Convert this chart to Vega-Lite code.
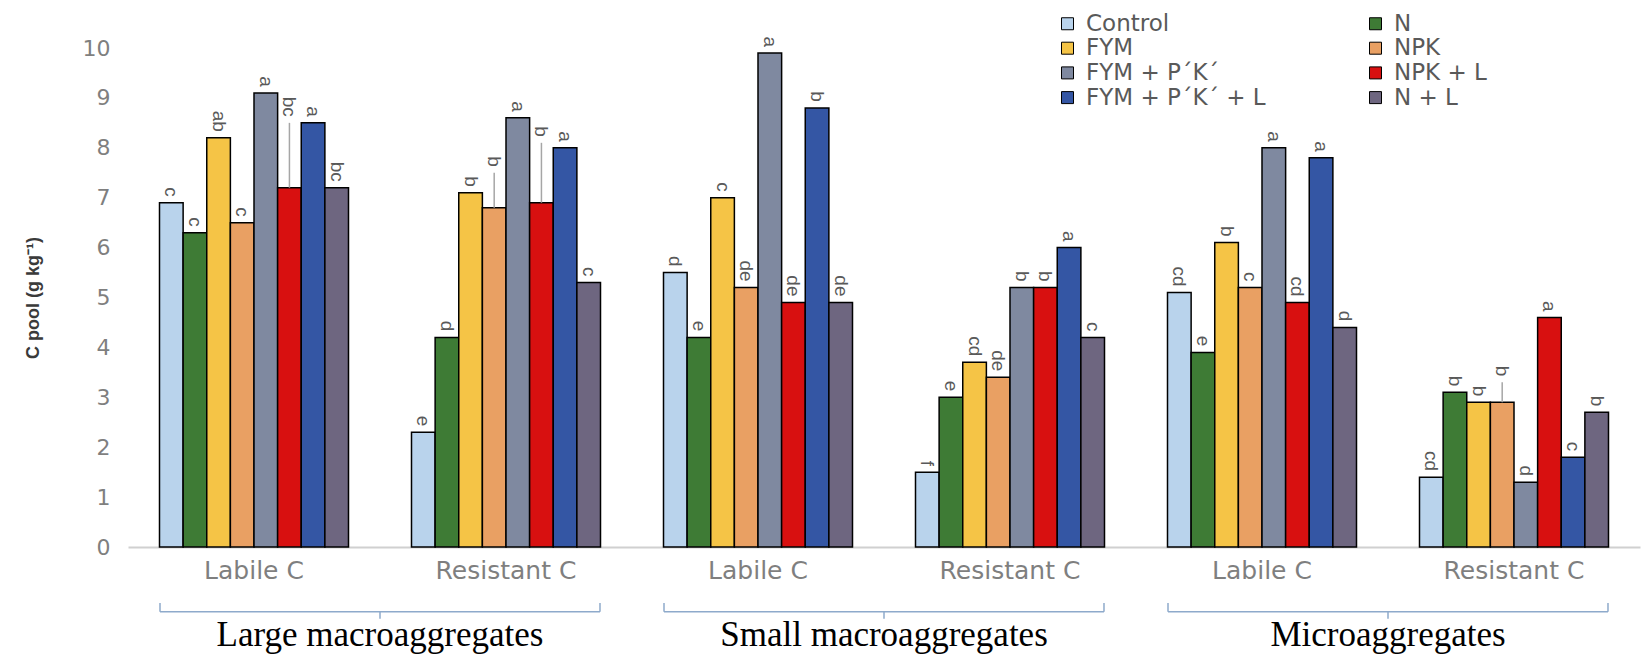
{
  "$schema": "https://vega.github.io/schema/vega-lite/v6.json",
  "width": 1512,
  "height": 499,
  "autosize": {"type": "none"},
  "padding": {"left": 128, "top": 48, "right": 3, "bottom": 110},
  "background": "white",
  "config": {
    "view": {"stroke": null},
    "axisY": {"grid": false, "domain": false, "ticks": false, "labelColor": "#7f7f7f", "labelFont": "DejaVu Sans", "labelFontSize": 22, "labelPadding": 18, "titleColor": "#3a3a3a", "titleFont": "Liberation Sans", "titleFontWeight": "bold", "titleFontSize": 18, "titlePadding": 40},
    "legend": {"orient": "none", "legendX": 928, "legendY": -36, "columns": 2, "direction": "horizontal", "title": null, "labelFont": "DejaVu Sans", "labelFontSize": 23, "labelLimit": 400, "labelColor": "#595959", "labelOffset": 7, "symbolType": "square", "symbolSize": 144, "symbolStrokeColor": "black", "symbolStrokeWidth": 1, "rowPadding": 0.7, "columnPadding": 98, "padding": 0}
  },
  "datasets": {
    "bars": [
      {"cat": "Large|Labile C", "trt": "Control", "value": 6.9, "letter": "c"},
      {"cat": "Large|Labile C", "trt": "N", "value": 6.3, "letter": "c"},
      {"cat": "Large|Labile C", "trt": "FYM", "value": 8.2, "letter": "ab"},
      {"cat": "Large|Labile C", "trt": "NPK", "value": 6.5, "letter": "c"},
      {"cat": "Large|Labile C", "trt": "FYM + P´K´", "value": 9.1, "letter": "a"},
      {"cat": "Large|Labile C", "trt": "NPK + L", "value": 7.2, "letter": "bc", "leaderTop": 8.5},
      {"cat": "Large|Labile C", "trt": "FYM + P´K´ + L", "value": 8.5, "letter": "a"},
      {"cat": "Large|Labile C", "trt": "N + L", "value": 7.2, "letter": "bc"},
      {"cat": "Large|Resistant C", "trt": "Control", "value": 2.3, "letter": "e"},
      {"cat": "Large|Resistant C", "trt": "N", "value": 4.2, "letter": "d"},
      {"cat": "Large|Resistant C", "trt": "FYM", "value": 7.1, "letter": "b"},
      {"cat": "Large|Resistant C", "trt": "NPK", "value": 6.8, "letter": "b", "leaderTop": 7.5},
      {"cat": "Large|Resistant C", "trt": "FYM + P´K´", "value": 8.6, "letter": "a"},
      {"cat": "Large|Resistant C", "trt": "NPK + L", "value": 6.9, "letter": "b", "leaderTop": 8.1},
      {"cat": "Large|Resistant C", "trt": "FYM + P´K´ + L", "value": 8.0, "letter": "a"},
      {"cat": "Large|Resistant C", "trt": "N + L", "value": 5.3, "letter": "c"},
      {"cat": "Small|Labile C", "trt": "Control", "value": 5.5, "letter": "d"},
      {"cat": "Small|Labile C", "trt": "N", "value": 4.2, "letter": "e"},
      {"cat": "Small|Labile C", "trt": "FYM", "value": 7.0, "letter": "c"},
      {"cat": "Small|Labile C", "trt": "NPK", "value": 5.2, "letter": "de"},
      {"cat": "Small|Labile C", "trt": "FYM + P´K´", "value": 9.9, "letter": "a"},
      {"cat": "Small|Labile C", "trt": "NPK + L", "value": 4.9, "letter": "de"},
      {"cat": "Small|Labile C", "trt": "FYM + P´K´ + L", "value": 8.8, "letter": "b"},
      {"cat": "Small|Labile C", "trt": "N + L", "value": 4.9, "letter": "de"},
      {"cat": "Small|Resistant C", "trt": "Control", "value": 1.5, "letter": "f"},
      {"cat": "Small|Resistant C", "trt": "N", "value": 3.0, "letter": "e"},
      {"cat": "Small|Resistant C", "trt": "FYM", "value": 3.7, "letter": "cd"},
      {"cat": "Small|Resistant C", "trt": "NPK", "value": 3.4, "letter": "de"},
      {"cat": "Small|Resistant C", "trt": "FYM + P´K´", "value": 5.2, "letter": "b"},
      {"cat": "Small|Resistant C", "trt": "NPK + L", "value": 5.2, "letter": "b"},
      {"cat": "Small|Resistant C", "trt": "FYM + P´K´ + L", "value": 6.0, "letter": "a"},
      {"cat": "Small|Resistant C", "trt": "N + L", "value": 4.2, "letter": "c"},
      {"cat": "Micro|Labile C", "trt": "Control", "value": 5.1, "letter": "cd"},
      {"cat": "Micro|Labile C", "trt": "N", "value": 3.9, "letter": "e"},
      {"cat": "Micro|Labile C", "trt": "FYM", "value": 6.1, "letter": "b"},
      {"cat": "Micro|Labile C", "trt": "NPK", "value": 5.2, "letter": "c"},
      {"cat": "Micro|Labile C", "trt": "FYM + P´K´", "value": 8.0, "letter": "a"},
      {"cat": "Micro|Labile C", "trt": "NPK + L", "value": 4.9, "letter": "cd"},
      {"cat": "Micro|Labile C", "trt": "FYM + P´K´ + L", "value": 7.8, "letter": "a"},
      {"cat": "Micro|Labile C", "trt": "N + L", "value": 4.4, "letter": "d"},
      {"cat": "Micro|Resistant C", "trt": "Control", "value": 1.4, "letter": "cd"},
      {"cat": "Micro|Resistant C", "trt": "N", "value": 3.1, "letter": "b"},
      {"cat": "Micro|Resistant C", "trt": "FYM", "value": 2.9, "letter": "b"},
      {"cat": "Micro|Resistant C", "trt": "NPK", "value": 2.9, "letter": "b", "leaderTop": 3.3},
      {"cat": "Micro|Resistant C", "trt": "FYM + P´K´", "value": 1.3, "letter": "d"},
      {"cat": "Micro|Resistant C", "trt": "NPK + L", "value": 4.6, "letter": "a"},
      {"cat": "Micro|Resistant C", "trt": "FYM + P´K´ + L", "value": 1.8, "letter": "c"},
      {"cat": "Micro|Resistant C", "trt": "N + L", "value": 2.7, "letter": "b"}
    ],
    "groups": [
      {"agg": "Large macroaggregates"},
      {"agg": "Small macroaggregates"},
      {"agg": "Microaggregates"}
    ]
  },
  "layer": [
    {
      "data": {"name": "bars"},
      "transform": [{"calculate": "isValid(datum.leaderTop) ? datum.leaderTop : datum.value", "as": "labelY"}],
      "encoding": {
        "x": {"field": "cat", "type": "nominal", "sort": null, "title": null,
              "scale": {"paddingInner": 0.25, "paddingOuter": 0.125},
              "axis": {"labelExpr": "split(datum.label, '|')[1]", "labelAngle": 0, "ticks": false, "domainColor": "#d0d0d0", "domainWidth": 2, "labelColor": "#7f7f7f", "labelFont": "DejaVu Sans", "labelFontSize": 25, "labelPadding": 11}},
        "xOffset": {"field": "trt", "type": "nominal", "sort": ["Control", "N", "FYM", "NPK", "FYM + P´K´", "NPK + L", "FYM + P´K´ + L", "N + L"], "scale": {"paddingInner": 0, "paddingOuter": 0}}
      },
      "layer": [
        {
          "mark": {"type": "bar", "stroke": "black", "strokeWidth": 1.5},
          "encoding": {
            "y": {"field": "value", "type": "quantitative", "title": "C pool (g kg⁻¹)", "scale": {"domain": [0, 10]}, "axis": {"values": [0,1,2,3,4,5,6,7,8,9,10]}},
            "color": {"field": "trt", "type": "nominal",
                      "scale": {"domain": ["Control", "N", "FYM", "NPK", "FYM + P´K´", "NPK + L", "FYM + P´K´ + L", "N + L"],
                                "range": ["#b9d3ec", "#3e7b35", "#f5c446", "#e9a063", "#7f89a0", "#d81010", "#3456a4", "#6e6680"]},
                      "legend": {}}
          }
        },
        {
          "mark": {"type": "rule", "color": "#a6a6a6", "strokeWidth": 1.5},
          "transform": [{"filter": "isValid(datum.leaderTop)"}],
          "encoding": {
            "y": {"field": "value", "type": "quantitative", "title": "C pool (g kg⁻¹)"},
            "y2": {"field": "leaderTop"}
          }
        },
        {
          "mark": {"type": "text", "angle": 90, "align": "right", "baseline": "middle", "dx": -6, "font": "Liberation Sans", "fontSize": 19, "color": "#595959"},
          "encoding": {
            "y": {"field": "labelY", "type": "quantitative", "title": "C pool (g kg⁻¹)"},
            "text": {"field": "letter"}
          }
        }
      ]
    },
    {
      "data": {"name": "groups"},
      "encoding": {
        "x": {"field": "agg", "type": "nominal", "sort": null, "axis": null,
              "scale": {"paddingInner": 0.127, "paddingOuter": 0.0635}}
      },
      "layer": [
        {
          "mark": {"type": "rule", "color": "#8eaacb", "strokeWidth": 1.5},
          "encoding": {
            "x": {"field": "agg", "type": "nominal", "sort": null, "axis": null, "bandPosition": 0},
            "x2": {"field": "agg", "bandPosition": 1},
            "y": {"datum": -1.3}
          }
        },
        {
          "mark": {"type": "rule", "color": "#8eaacb", "strokeWidth": 1.5},
          "encoding": {
            "x": {"field": "agg", "type": "nominal", "sort": null, "axis": null, "bandPosition": 0},
            "y": {"datum": -1.12},
            "y2": {"datum": -1.3}
          }
        },
        {
          "mark": {"type": "rule", "color": "#8eaacb", "strokeWidth": 1.5},
          "encoding": {
            "x": {"field": "agg", "type": "nominal", "sort": null, "axis": null, "bandPosition": 1},
            "y": {"datum": -1.12},
            "y2": {"datum": -1.3}
          }
        },
        {
          "mark": {"type": "rule", "color": "#8eaacb", "strokeWidth": 1.5},
          "encoding": {
            "x": {"field": "agg", "type": "nominal", "sort": null, "axis": null, "bandPosition": 0.5},
            "y": {"datum": -1.3},
            "y2": {"datum": -1.44}
          }
        },
        {
          "mark": {"type": "text", "font": "Liberation Serif", "fontSize": 35, "color": "black", "baseline": "alphabetic", "align": "center"},
          "encoding": {
            "x": {"field": "agg", "type": "nominal", "sort": null, "axis": null, "bandPosition": 0.5},
            "y": {"datum": -1.98},
            "text": {"field": "agg"}
          }
        }
      ]
    }
  ],
  "resolve": {"scale": {"x": "independent"}}
}
